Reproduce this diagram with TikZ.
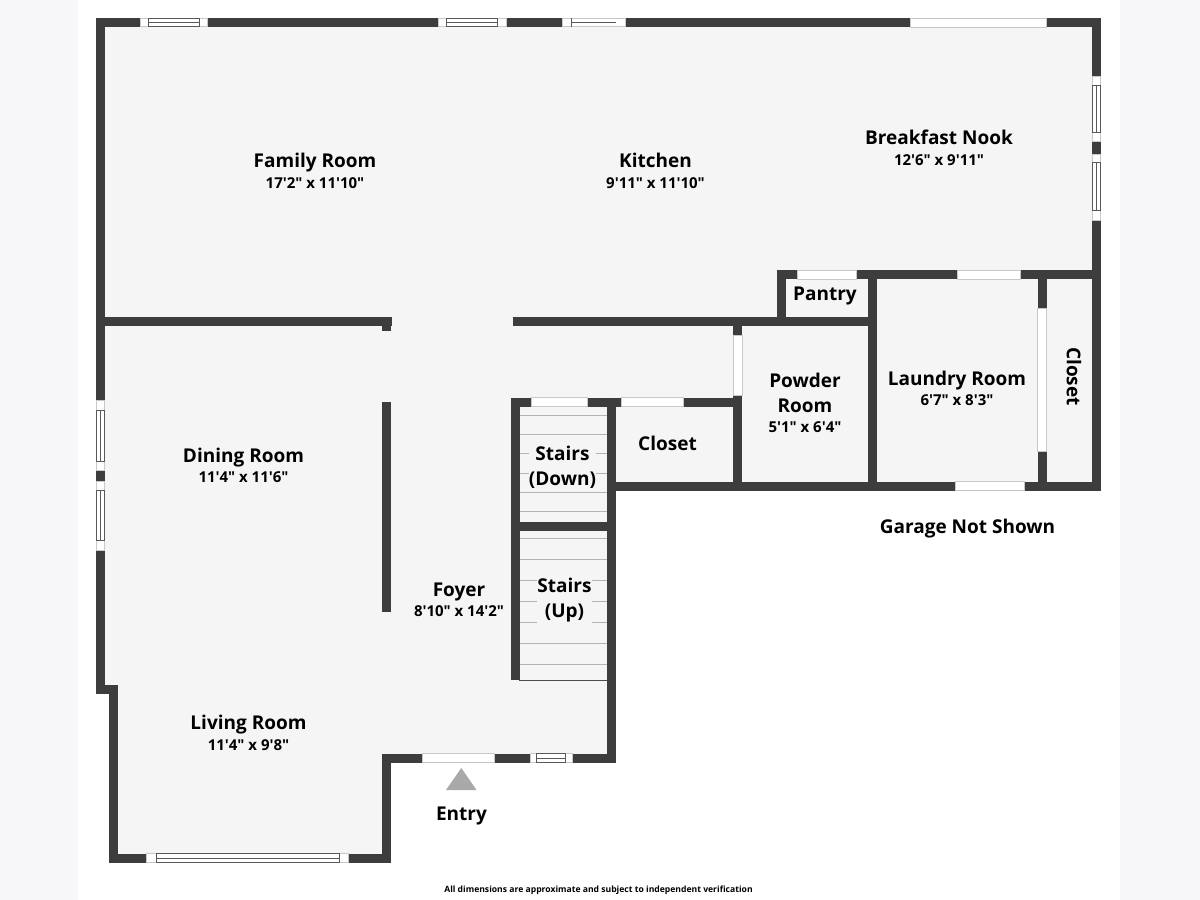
\documentclass[tikz,border=0pt]{standalone}
\usepackage{fontspec}
\setmainfont{Open Sans}[Ligatures=TeXOff]
\usepackage{xcolor}
\definecolor{wallcol}{HTML}{3D3D3D}
\definecolor{floorcol}{HTML}{F5F5F5}
\definecolor{sidecol}{HTML}{F7F6F8}
\definecolor{treadcol}{HTML}{B4B4B4}
\definecolor{doorcol}{HTML}{C8C8C8}
\definecolor{entrycol}{HTML}{A9A9A9}
\tikzset{
	wall/.style={color=wallcol,line width=9pt},
	tread/.style={color=treadcol,line width=1pt},
	door/.style={fill=white,draw=doorcol,line width=0.8pt},
	pane/.style={draw=black!65,line width=0.6pt},
	room/.style={font=\fontsize{19}{25}\selectfont\bfseries,align=center,inner sep=0pt,text=black},
	roomname/.style={room,anchor=base},
	roomsize/.style={font=\fontsize{15}{18}\selectfont\bfseries,inner sep=0pt,text=black,anchor=base},
}
\begin{document}
\begin{tikzpicture}[x=1pt,y=-1pt]
	\useasboundingbox (0,0) rectangle (1200,900);
	\fill[color=sidecol] (0,0) rectangle (1200,900);
	\fill[color=white] (78,0) rectangle (1120,900);
	\fill[color=floorcol] (100,22) -- (1096,22) -- (1096,486) -- (611,486) -- (611,758) -- (387,758) -- (387,858) -- (113,858) -- (113,690) -- (100,690) -- cycle;
	% treads
	\foreach \y in {415,434,453.7,473,492.3,511.7,538,559.3,580.3,601,622.3,643.7,664.3} \draw[tread] (519,\y) -- (607.5,\y);
	\draw[color=black!70,line width=0.8pt] (519,680.3) -- (607.5,680.3);
	% walls
	\draw[wall,miter limit=10] (100.5,22.5) -- (1096.5,22.5) -- (1096.5,486.2) -- (611.5,486.2) -- (611.5,758) -- (386.8,758) -- (386.8,858) -- (113.2,858) -- (113.2,689.5) -- (100.5,689.5) -- cycle;
	\draw[wall] (96,321.8) -- (391.7,321.8);
	\draw[wall] (386.8,317.3) -- (386.8,330.7);
	\draw[wall] (386.8,402) -- (386.8,612);
	\draw[wall] (512.7,321.8) -- (876.7,321.8);
	\draw[wall] (515.4,397.7) -- (515.4,680.3);
	\draw[wall] (511,402.2) -- (742.3,402.2);
	\draw[wall] (511,526.8) -- (616,526.8);
	\draw[wall] (737.8,317.3) -- (737.8,490.7);
	\draw[wall] (781,270) -- (781,326.3);
	\draw[wall] (776.5,274.5) -- (1101,274.5);
	\draw[wall] (872.2,270) -- (872.2,490.7);
	\draw[wall] (1042.2,270) -- (1042.2,308.3);
	\draw[wall] (1042.2,451.7) -- (1042.2,490.7);
	\draw[wall] (611.5,397.7) -- (611.5,490.7);
	% doors
	\draw[door] (910,18) rectangle (1046.7,27);
	\foreach \a/\b in {797.7/856,957.7/1020.7} \draw[door] (\a,270) rectangle (\b,279);
	\foreach \a/\b in {531/587.7,621.3/683.3} \draw[door] (\a,397.7) rectangle (\b,406.7);
	\draw[door] (955.7,481.7) rectangle (1024.3,490.7);
	\draw[door] (422,753.5) rectangle (494.3,762.5);
	\draw[door] (733.3,335.3) rectangle (742.3,395);
	\draw[door] (1037.7,308.3) rectangle (1046.7,451.7);
	% windows
	\foreach \a/\c/\d/\b in {140/148.3/199/207.7,438.3/446.5/497.5/506} {
		\draw[door] (\a,18.3) rectangle (\b,26.7);
		\draw[pane] (\c,18.3) rectangle (\d,26.7);
		\draw[pane] (\c,22) -- (\d,22);
	}
	\draw[door] (562,18.3) rectangle (625,26.7);
	\draw[pane] (571,18.3) -- (571,26.7);
	\draw[pane] (571,22) -- (616,22);
	\draw[door] (146.7,853.5) rectangle (348,862.5);
	\draw[pane] (156.3,853.5) rectangle (339.3,862.5);
	\draw[pane] (156.3,858) -- (339.3,858);
	\draw[door] (530,753.5) rectangle (572.3,762.5);
	\draw[pane] (536.3,753.5) rectangle (565.7,762.5);
	\draw[pane] (536.3,758) -- (565.7,758);
	\foreach \a/\c/\d/\b in {76.7/85.3/132.3/141.3,154/162.3/210.7/220} {
		\draw[door] (1092.5,\a) rectangle (1100.7,\b);
		\draw[pane] (1092.5,\c) rectangle (1100.7,\d);
		\draw[pane] (1096.7,\c) -- (1096.7,\d);
	}
	\foreach \a/\c/\d/\b in {400.7/410/461/470,481/490.3/540.7/550} {
		\draw[door] (96.5,\a) rectangle (104.2,\b);
		\draw[pane] (96.5,\c) rectangle (104.2,\d);
		\draw[pane] (100.4,\c) -- (100.4,\d);
	}
	% entry
	\fill[color=entrycol] (461.3,768) -- (476.5,790) -- (446,790) -- cycle;
	% labels
	\node[roomname] (family) at (315,167) {Family Room};
	\node[roomsize] (familysize) at (315,188.5) {17'2" x 11'10"};
	\node[roomname] (kitchen) at (655.5,167) {Kitchen};
	\node[roomsize] (kitchensize) at (655.5,188.5) {9'11" x 11'10"};
	\node[roomname] (nook) at (939,144) {Breakfast Nook};
	\node[roomsize] (nooksize) at (939,165) {12'6" x 9'11"};
	\node[roomname] (pantry) at (825,300) {Pantry};
	\node[room] (powder) at (805,393) {Powder\\Room};
	\node[roomsize] (powdersize) at (805,432.5) {5'1" x 6'4"};
	\node[roomname] (laundry) at (957,385) {Laundry Room};
	\node[roomsize] (laundrysize) at (957,405) {6'7" x 8'3"};
	\node[room,rotate=-90] (closetside) at (1074,376.5) {Closet};
	\node[roomname] (closetfront) at (667.5,450) {Closet};
	\node[room,fill=floorcol] (down) at (562.5,467) {Stairs\\(Down)};
	\node[room,fill=floorcol] (up) at (564.5,600.5) {Stairs\\(Up)};
	\node[roomname] (dining) at (243.5,462) {Dining Room};
	\node[roomsize] (diningsize) at (243.5,482.5) {11'4" x 11'6"};
	\node[roomname] (foyer) at (459,596) {Foyer};
	\node[roomsize] (foyersize) at (459,616) {8'10" x 14'2"};
	\node[roomname] (living) at (248.5,729.5) {Living Room};
	\node[roomsize] (livingsize) at (248.5,750) {11'4" x 9'8"};
	\node[roomname] (garage) at (967.5,533) {Garage Not Shown};
	\node[roomname] (entry) at (461.5,820) {Entry};
	\node[font=\fontsize{8.6}{10}\selectfont\bfseries,inner sep=0pt] (note) at (598.5,890) {All dimensions are approximate and subject to independent verification};
\end{tikzpicture}
\end{document}
